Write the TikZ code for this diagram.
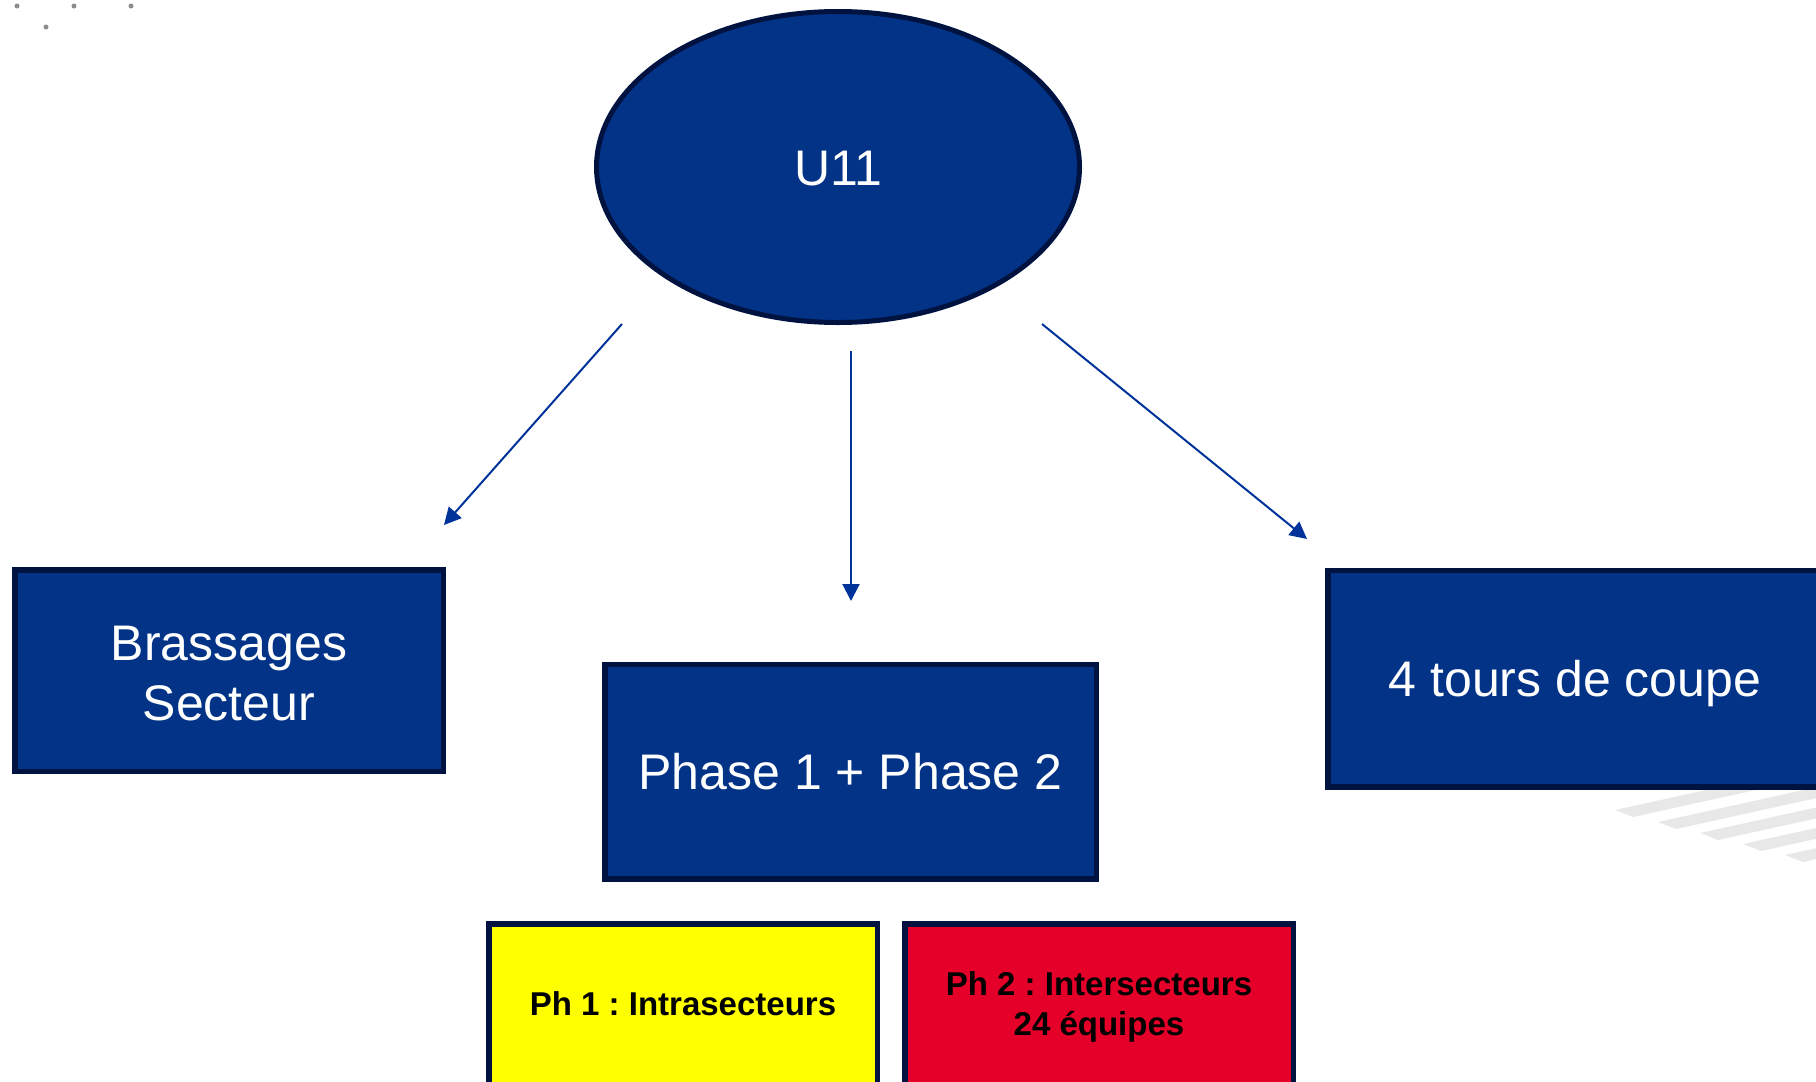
\documentclass[tikz,border=0pt]{standalone}
\usepackage{fontspec}
\setmainfont{Liberation Sans}
\frenchspacing
\usetikzlibrary{shapes.geometric,arrows.meta}
\definecolor{fillblue}{RGB}{2,51,135}
\definecolor{edgenavy}{RGB}{0,18,64}
\definecolor{arrowblue}{RGB}{0,51,153}
\definecolor{phred}{RGB}{228,0,40}
\definecolor{phyellow}{RGB}{255,255,0}
\definecolor{stripegray}{RGB}{232,232,232}
\definecolor{dotgray}{RGB}{140,140,140}
\begin{document}
\begin{tikzpicture}[x=1pt,y=-1pt,
  bluebox/.style={draw=edgenavy, fill=fillblue, line width=5.5pt, text=white,
    inner sep=0pt, align=center, font=\fontsize{50}{60}\selectfont},
  oneline/.style={text height=36pt, text depth=0pt},
  phasebox/.style={draw=edgenavy, line width=5.5pt, text=black, inner sep=0pt,
    align=center, font=\fontsize{33}{40}\selectfont\bfseries,
    minimum width=388.5pt, minimum height=160.5pt},
  conn/.style={draw=arrowblue, line width=2pt,
    -{Triangle[length=17pt,width=17pt]}},
  stripe/.style={fill=stripegray, draw=none},
  dot/.style={fill=dotgray, draw=none}]
\useasboundingbox (0,0) rectangle (1816,1082);
\clip (0,0) rectangle (1816,1082);
% background decoration
\fill[dot] (17,6) circle (2.5);
\fill[dot] (74,6) circle (2.5);
\fill[dot] (131,6) circle (2.5);
\fill[dot] (46,27) circle (2.5);
\fill[stripe] (1615,810) -- (1633,817) -- (1830,773.7) -- (1830,762.7) -- cycle;
\fill[stripe] (1658,822) -- (1676,829) -- (1830,795.1) -- (1830,784.2) -- cycle;
\fill[stripe] (1700,833) -- (1718,840) -- (1830,815.4) -- (1830,804.4) -- cycle;
\fill[stripe] (1743,844) -- (1761,851) -- (1830,835.8) -- (1830,824.9) -- cycle;
\fill[stripe] (1785,855) -- (1803,862) -- (1830,856.1) -- (1830,845.1) -- cycle;
% nodes
\node[ellipse, draw=edgenavy, fill=fillblue, line width=5pt, text=white,
  inner sep=0pt, minimum width=483pt, minimum height=311pt, oneline,
  font=\fontsize{50}{60}\selectfont] (u11) at (838,167) {U11};
\node[bluebox, minimum width=428.5pt, minimum height=201.5pt] (brass) at (229,670.5) {\rule{0pt}{41pt}Brassages\\Secteur};
\node[bluebox, oneline, minimum width=491.5pt, minimum height=214.5pt] (phase) at (850.5,771.5) {Phase 1 + Phase 2};
\node[bluebox, oneline, minimum width=494.5pt, minimum height=216.5pt] (tours) at (1575,678.5) {4 tours de coupe};
\node[phasebox, fill=phyellow, text height=23.6pt, text depth=0pt] (ph1) at (683,1004) {Ph 1 : Intrasecteurs};
\node[phasebox, fill=phred] (ph2) at (1099,1004) {\rule{0pt}{30.6pt}Ph 2 : Intersecteurs\\24 équipes};
% connectors
\coordinate (lstart) at (622,324);
\coordinate (lend) at (444,525);
\coordinate (mstart) at (851,351);
\coordinate (mend) at (851,601);
\coordinate (rstart) at (1042,324);
\coordinate (rend) at (1307,539);
\draw[conn] (lstart) -- (lend);
\draw[conn] (mstart) -- (mend);
\draw[conn] (rstart) -- (rend);
\end{tikzpicture}
\end{document}
